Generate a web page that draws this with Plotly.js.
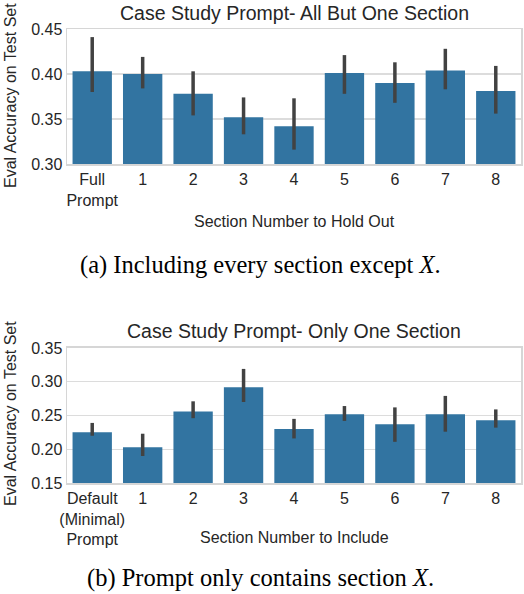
<!DOCTYPE html>
<html>
<head>
<meta charset="utf-8">
<script src="https://cdn.plot.ly/plotly-3.0.1.min.js"></script>
<style>
  html, body { margin: 0; padding: 0; background: #fff; }
  #plotDiv { width: 524px; height: 594px; }
</style>
</head>
<body>
<div id="plotDiv"></div>
<script>
// (a) hold out one section
const holdOutLabels = ["Full<br>Prompt", "1", "2", "3", "4", "5", "6", "7", "8"];
const holdOutMean = [0.403, 0.400, 0.378, 0.352, 0.342, 0.401, 0.390, 0.404, 0.381];
const holdOutHigh = [0.441, 0.419, 0.403, 0.374, 0.373, 0.421, 0.413, 0.428, 0.409];
const holdOutLow = [0.380, 0.384, 0.354, 0.333, 0.316, 0.378, 0.368, 0.383, 0.356];

// (b) only one section
const onlyLabels = ["Default<br>(Minimal)<br>Prompt", "1", "2", "3", "4", "5", "6", "7", "8"];
const onlyMean = [0.225, 0.203, 0.256, 0.292, 0.230, 0.252, 0.237, 0.252, 0.243];
const onlyHigh = [0.239, 0.223, 0.271, 0.319, 0.245, 0.264, 0.262, 0.279, 0.259];
const onlyLow = [0.220, 0.190, 0.246, 0.270, 0.216, 0.242, 0.211, 0.226, 0.232];

const barColor = "#3274a1";
const errColor = "#424242";
const textColor = "#262626";
const sansFont = "Liberation Sans, Arial, sans-serif";
const serifFont = "Liberation Serif, Times New Roman, serif";

function barTrace(labels, mean, high, low, xa, ya) {
  return {
    type: "bar",
    x: labels,
    y: mean,
    xaxis: xa,
    yaxis: ya,
    marker: { color: barColor },
    error_y: {
      type: "data",
      symmetric: false,
      array: high.map((h, i) => h - mean[i]),
      arrayminus: low.map((l, i) => mean[i] - l),
      color: errColor,
      thickness: 3.5,
      width: 0,
    },
    hoverinfo: "x+y",
    showlegend: false,
  };
}

let traces = [
  barTrace(holdOutLabels, holdOutMean, holdOutHigh, holdOutLow, "x", "y"),
  barTrace(onlyLabels, onlyMean, onlyHigh, onlyLow, "x2", "y2"),
];

function xAxis(anchor) {
  return {
    type: "category",
    anchor: anchor,
    domain: [0, 1],
    showline: true,
    mirror: true,
    linecolor: "#d6d6d6",
    linewidth: 1.5,
    showgrid: false,
    ticks: "",
    tickfont: { family: sansFont, size: 16, color: textColor },
    range: [-0.5, 8.5],
    fixedrange: true,
  };
}

function yAxis(anchor, domain, range, dtick) {
  return {
    anchor: anchor,
    domain: domain,
    range: range,
    dtick: dtick,
    tickformat: ".2f",
    showline: true,
    mirror: true,
    linecolor: "#d6d6d6",
    linewidth: 1.5,
    showgrid: true,
    gridcolor: "#dcdcdc",
    gridwidth: 1.2,
    zeroline: false,
    ticks: "",
    tickfont: { family: sansFont, size: 16, color: textColor },
    fixedrange: true,
  };
}

let layout = {
  width: 524,
  height: 594,
  margin: { l: 67, r: 3, t: 29, b: 111 },
  paper_bgcolor: "#fff",
  plot_bgcolor: "#fff",
  bargap: 0.22,
  xaxis: xAxis("y"),
  yaxis: yAxis("x", [0.7026, 1], [0.30, 0.45], 0.05),
  xaxis2: xAxis("y2"),
  yaxis2: yAxis("x2", [0, 0.2974], [0.15, 0.35], 0.05),
  annotations: [
    // plot titles
    { text: "Case Study Prompt- All But One Section", xref: "paper", yref: "paper",
      x: 0.5, y: 1, yshift: 16, showarrow: false, yanchor: "middle",
      font: { family: sansFont, size: 19.5, color: textColor } },
    { text: "Case Study Prompt- Only One Section", xref: "paper", yref: "paper",
      x: 0.5, y: 0.2974, yshift: 17, showarrow: false, yanchor: "middle",
      font: { family: sansFont, size: 19.5, color: textColor } },
    // x titles
    { text: "Section Number to Hold Out", xref: "paper", yref: "paper",
      x: 0.5, y: 0.7026, yshift: -57, showarrow: false, yanchor: "middle",
      font: { family: sansFont, size: 16, color: textColor } },
    { text: "Section Number to Include", xref: "paper", yref: "paper",
      x: 0.5, y: 0, yshift: -54, showarrow: false, yanchor: "middle",
      font: { family: sansFont, size: 16, color: textColor } },
    // y titles
    { text: "Eval Accuracy on Test Set", xref: "paper", yref: "paper",
      x: 0, xshift: -57, y: 0.7026, yshift: 68, showarrow: false, textangle: -90,
      xanchor: "center", yanchor: "middle",
      font: { family: sansFont, size: 16, color: textColor } },
    { text: "Eval Accuracy on Test Set", xref: "paper", yref: "paper",
      x: 0, xshift: -57, y: 0, yshift: 69, showarrow: false, textangle: -90,
      xanchor: "center", yanchor: "middle",
      font: { family: sansFont, size: 16, color: textColor } },
    // captions
    { text: "(a) Including every section except <i>X</i>.", xref: "paper", yref: "paper",
      x: 0.5, xshift: -34, y: 0.7026, yshift: -101, showarrow: false, yanchor: "middle",
      font: { family: serifFont, size: 24.5, color: "#000" } },
    { text: "(b) Prompt only contains section <i>X</i>.", xref: "paper", yref: "paper",
      x: 0.5, xshift: -34, y: 0, yshift: -95, showarrow: false, yanchor: "middle",
      font: { family: serifFont, size: 24.5, color: "#000" } },
  ],
};

Plotly.newPlot("plotDiv", traces, layout, { displayModeBar: false, staticPlot: true });
</script>
</body>
</html>
